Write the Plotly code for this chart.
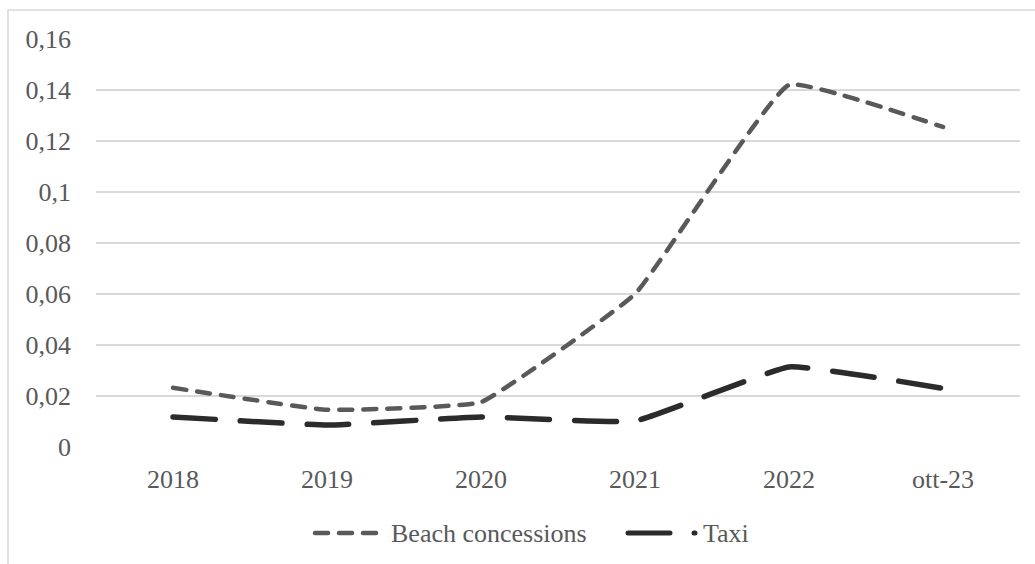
import plotly.graph_objects as go

# Categories and series
periods = ["2018", "2019", "2020", "2021", "2022", "ott-23"]
beach_concessions = [0.0232, 0.0146, 0.0176, 0.0600, 0.1420, 0.1255]
taxi = [0.0118, 0.0086, 0.0118, 0.0102, 0.0314, 0.0230]
series_names = ["Beach concessions", "Taxi"]

# Y-axis ticks (Italian decimal comma)
y_tick_values = [0, 0.02, 0.04, 0.06, 0.08, 0.10, 0.12, 0.14, 0.16]
y_tick_labels = ["0", "0,02", "0,04", "0,06", "0,08", "0,1", "0,12", "0,14", "0,16"]

FONT = "Liberation Serif"
TEXT_GREY = "#595959"
GRID = "#d9d9d9"
BEACH_COLOR = "#595959"
TAXI_COLOR = "#2b2b2b"
BEACH_DASH = "13px,11px"
TAXI_DASH = "42px,25px"
FS = 26

W, H = 1035, 564
ml, mr, mt, mb = 96, 15, 39, 117
pw, ph = W - ml - mr, H - mt - mb


def px_x(px):
    return (px - ml) / pw


def px_y(py):
    return (H - mb - py) / ph


fig = go.Figure()
fig.add_trace(go.Scatter(
    x=periods, y=beach_concessions, name=series_names[0], mode="lines",
    line=dict(color=BEACH_COLOR, width=4.5, dash=BEACH_DASH, shape="spline", smoothing=0.3),
))
fig.add_trace(go.Scatter(
    x=periods, y=taxi, name=series_names[1], mode="lines",
    line=dict(color=TAXI_COLOR, width=5.5, dash=TAXI_DASH, shape="spline", smoothing=0.3),
))

# Light frame around the chart area
fig.add_shape(
    type="rect", xref="paper", yref="paper",
    x0=px_x(8), x1=px_x(W + 10), y0=px_y(H + 10), y1=px_y(10),
    line=dict(color=GRID, width=1.5), fillcolor="rgba(0,0,0,0)", layer="below",
)

# Legend drawn below the plot: line samples plus labels
legend_y = px_y(533)
fig.add_shape(
    type="line", xref="paper", yref="paper",
    x0=px_x(315), x1=px_x(377), y0=legend_y, y1=legend_y,
    line=dict(color=BEACH_COLOR, width=4.5, dash=BEACH_DASH),
)
fig.add_annotation(
    text=series_names[0], xref="paper", yref="paper", x=px_x(389), y=legend_y,
    xanchor="left", yanchor="middle", showarrow=False,
    font=dict(family=FONT, size=FS, color=TEXT_GREY),
)
fig.add_shape(
    type="line", xref="paper", yref="paper",
    x0=px_x(628), x1=px_x(696), y0=legend_y, y1=legend_y,
    line=dict(color=TAXI_COLOR, width=5, dash="42px,24px,1px,40px"),
)
fig.add_annotation(
    text=series_names[1], xref="paper", yref="paper", x=px_x(701), y=legend_y,
    xanchor="left", yanchor="middle", showarrow=False,
    font=dict(family=FONT, size=FS, color=TEXT_GREY),
)

fig.update_layout(
    width=W, height=H,
    margin=dict(l=ml, r=mr, t=mt, b=mb),
    paper_bgcolor="white", plot_bgcolor="white",
    font=dict(family=FONT, size=FS, color=TEXT_GREY),
    showlegend=False,
    xaxis=dict(
        type="category", range=[-0.5, len(periods) - 0.5],
        showgrid=False, zeroline=False, showline=False,
        ticks="", tickfont=dict(family=FONT, size=FS, color=TEXT_GREY), ticklabelstandoff=14,
    ),
    yaxis=dict(
        range=[0, 0.16], tickvals=y_tick_values, ticktext=y_tick_labels,
        showgrid=True, gridcolor=GRID, gridwidth=1.5, zeroline=False,
        showline=False, ticks="", ticklabelstandoff=24,
        tickfont=dict(family=FONT, size=FS, color=TEXT_GREY),
    ),
)

# Round line ends on dashed series and legend samples
round_caps = (
    "var gd=document.getElementById('{plot_id}');"
    "function rc(){gd.querySelectorAll('path.js-line, .shapelayer path')"
    ".forEach(function(p){p.style.strokeLinecap='round';});}"
    "rc(); gd.on('plotly_afterplot', rc);"
)

fig.write_html("out.html", post_script=round_caps)
